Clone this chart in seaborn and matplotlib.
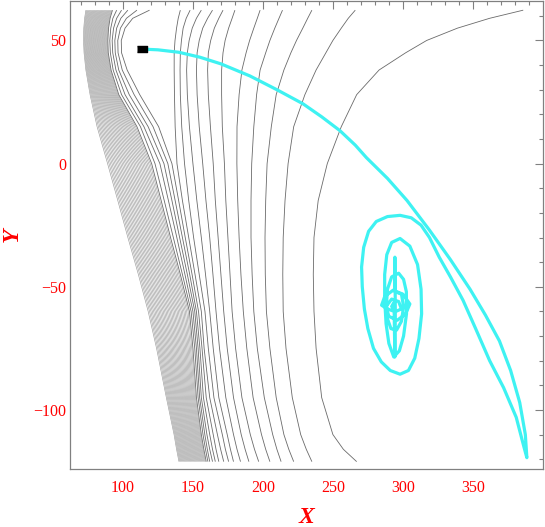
import numpy as np
import matplotlib
matplotlib.use("Agg")
import matplotlib.pyplot as plt
import seaborn as sns

# contour lines
row_y = [-121, -116, -110, -95, -75, -60, -45, -30, -15, 0, 15, 28, 38, 45, 50, 55, 59, 62.3]
edge_x = [140, 138.3, 136.5, 131, 124, 118, 111, 103.5, 96.3, 89, 81.5, 76.5, 73.5, 72.2, 71.8, 72, 72.6, 73.5]
dense_x = [159.5, 157.8, 156, 152.5, 150, 147.5, 141, 134, 127.3, 120.5, 110, 97, 91.5, 89.5, 89.2, 89.7, 90.8, 92.5]
# nose lines (5), kink line, 5 lines, then the four long arcs and the outer line
line_x = [
    [160.7, 162, 164, 166, 168.5, 172, 175.5, 179, 184, 190, 197, 205, 213, 222, 235, 267],
    [159, 160.3, 162, 164, 166.5, 169.8, 173.2, 176.8, 181.5, 187.3, 194, 202, 210, 218.5, 231, 257.5],
    [157.2, 158.5, 160, 162, 164.5, 167.5, 171, 174.5, 179, 184.5, 191, 199, 207, 215, 227, 250],
    [153.7, 154.8, 156, 157.5, 159.5, 162, 165, 168.5, 173.5, 179, 185, 193, 201, 209.5, 221, 242],
    [151.3, 152.5, 153.7, 155, 156.5, 158, 161, 164.5, 169, 174.5, 180.5, 188.5, 196, 205, 216.5, 238],
    [148.7, 150, 151.3, 152.5, 154, 156, 158.6, 162, 166.5, 172, 178, 186, 193.5, 202.5, 214.5, 236.5],
    [142.5, 144.3, 146, 147.7, 149.4, 151.5, 154.5, 159, 164.3, 170, 176.5, 184.3, 192.3, 201.7, 214.2, 236],
    [136, 138.5, 140.5, 142.5, 144.5, 147, 150.5, 156, 162, 168, 175, 183, 191.5, 201.5, 214.5, 236.5],
    [129.5, 132.5, 135, 137.3, 139.8, 142.5, 147, 152.8, 159.3, 166, 173.5, 182, 191.5, 202, 215.8, 239.5],
    [122.9, 126.4, 129.3, 132.1, 135, 138.6, 144, 150, 157, 164.5, 172.5, 181.4, 192, 203, 218, 246],
    [112.5, 115, 118, 121.5, 125.5, 137.3, 142, 147.5, 154.5, 162.5, 171, 181.5, 193.5, 206, 222, 256],
    [99, 101.5, 104.5, 108, 112, 136.8, 141, 146, 153, 161, 170.5, 183, 195.5, 209.5, 230, 267],
    [93, 95, 97, 99.5, 103, 136.6, 140.8, 145.5, 152.5, 160.5, 170.5, 185, 198, 215, 238, 283],
    [91, 92.7, 94.5, 96.5, 99, 136.6, 141, 146, 153, 161, 171.5, 188, 202, 220, 245, 302],
    [90.6, 92.3, 94.2, 96.3, 98.8, 137.2, 141.8, 147.3, 154.5, 162.7, 173, 190.5, 205, 224, 250, 317],
    [91.3, 93.3, 95.5, 98.2, 101.5, 138.3, 143, 149.5, 157, 165.3, 175.5, 193.5, 208.5, 228.5, 256, 339],
    [92.8, 95.5, 98.5, 102.5, 107, 139.5, 145.2, 152.5, 160.5, 168.5, 178, 196, 211.5, 232, 261, 362],
    [95.5, 99, 103.5, 110, 119, 141, 148, 156, 164, 171.5, 180, 198, 214, 235, 266, 386],
]
n_dense = 30

# trajectory
path_x = [113.6, 125, 140, 155, 170, 190.7, 210, 228.6, 242, 255, 266, 274, 289, 303, 319, 334, 348,
          359, 369, 377, 383.5, 387.5, 388.6, 386.5, 381, 372, 362, 352, 343, 334, 326, 319, 313,
          306, 298, 289, 281, 275.5, 272, 270.5, 271, 272.5, 275, 279, 284.6, 291, 298, 304, 308.5,
          311.5, 313.4, 313, 310.5, 305, 298, 292, 288.5, 287, 287, 288, 290, 293.5, 297.5, 300.5,
          302.6, 302.5, 300.5, 297, 292, 289, 288.3, 289, 291.5, 295.5, 299, 300.5, 299, 294.5,
          294.2, 294.3, 294.5, 294.6, 294.3, 294, 293.8, 289, 284.8, 287, 293, 300, 305, 302, 296,
          290, 288, 292, 297, 299, 295, 292, 294]
path_y = [46.5, 46.2, 45.2, 43.2, 40.5, 35.6, 30, 24.3, 19, 13.4, 7.5, 2.4, -6, -15, -27, -39, -51,
          -61.5, -72, -84, -97, -110, -119.4, -115, -103, -91, -80, -67, -55.5, -46, -38, -30, -25,
          -22, -21, -21.5, -23.5, -27.5, -34, -42, -50, -59, -67, -75, -80.5, -84, -85.5, -84, -79,
          -71, -61, -51, -41, -33.5, -30.4, -32, -37, -45, -55, -65, -73, -78.5, -76, -70,
          -61, -52, -47, -44.5, -46, -51, -57, -63, -67, -67.6, -64, -58, -53, -52,
          -45, -38, -50, -62, -78.5, -68, -60, -59, -57.5, -54, -51.4, -53, -57, -61, -63.6,
          -62, -58, -55, -56, -59, -60, -58, -56]
start_x = [113.6]
start_y = [46.5]

sns.set_theme(style="white")
plt.rcParams["font.family"] = ["Liberation Serif", "DejaVu Serif"]
plt.rcParams["axes.unicode_minus"] = True

fig, ax = plt.subplots(figsize=(5.45, 5.27), dpi=100)
fig.subplots_adjust(left=0.128, right=0.996, top=0.998, bottom=0.11)

# curvilinear grid: columns are the traced lines, the library fills the dense band
n_rows = len(row_y)
n_lines = len(line_x[0])
X = np.column_stack([edge_x, dense_x, np.array(line_x), [400] * n_rows])
Y = np.repeat(np.array(row_y, dtype=float)[:, None], X.shape[1], axis=1)
z_row = np.r_[0, n_dense, n_dense + 1 + np.arange(n_lines), n_dense + n_lines + 1]
Z = np.tile(z_row, (n_rows, 1)).astype(float)
ax.contour(X, Y, Z, levels=np.arange(0, n_dense) + 0.02, colors="#9c9c9c", linewidths=0.45)
ax.contour(X, Y, Z, levels=n_dense + np.arange(0, n_lines + 1), colors="#6a6a6a", linewidths=0.6)

sns.lineplot(x=path_x, y=path_y, sort=False, estimator=None, color="#3ef2f2", lw=2.3, ax=ax)
ax.plot(start_x, start_y, marker=[(-1.5, -1), (1.5, -1), (1.5, 1), (-1.5, 1)], ms=7,
        color="black", ls="none", zorder=5)

ax.set_xlim(62, 400)
ax.set_ylim(-124, 66)
ax.set_xticks([100, 150, 200, 250, 300, 350])
ax.set_yticks([-100, -50, 0, 50])
ax.set_xticks(np.arange(70, 400, 10), minor=True)
ax.set_yticks(np.arange(-120, 66, 10), minor=True)
ax.tick_params(which="both", direction="in", top=True, right=True, color="#808080",
               labelcolor="red", labelsize=11.5, width=0.8)
ax.tick_params(which="major", length=6)
ax.tick_params(which="minor", length=3)
ax.tick_params(axis="x", which="major", pad=8)
ax.tick_params(axis="y", which="major", pad=2.5)
for s in ax.spines.values():
    s.set_color("#808080")
    s.set_linewidth(0.9)

ax.set_xlabel("X", color="red", fontsize=17, fontweight="bold", fontstyle="italic", labelpad=8)
ax.set_ylabel("Y", color="red", fontsize=17, fontweight="bold", fontstyle="italic")
ax.yaxis.set_label_coords(-0.10, 0.5)

fig.savefig("out.png", dpi=100)
